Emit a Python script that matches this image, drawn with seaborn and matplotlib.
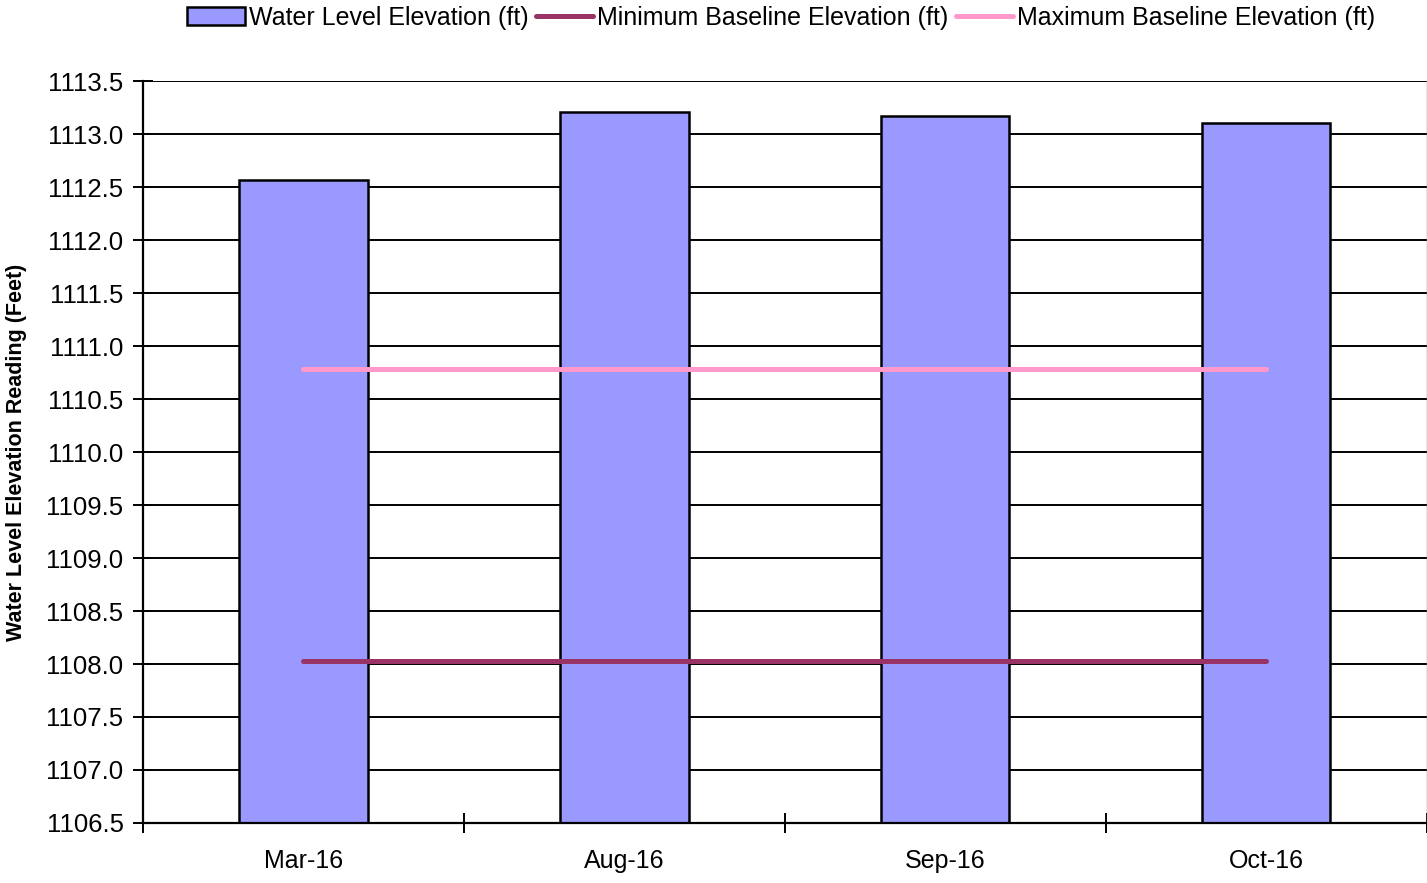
import numpy as np
import pandas as pd
import matplotlib
matplotlib.use("Agg")
import matplotlib.pyplot as plt
import seaborn as sns

# values
months = ['Mar-16', 'Aug-16', 'Sep-16', 'Oct-16']
water_level = [1112.57, 1113.21, 1113.17, 1113.11]
min_baseline = [1108.03, 1108.03, 1108.03, 1108.03]
max_baseline = [1110.78, 1110.78, 1110.78, 1110.78]
y_ticks = np.arange(1106.5, 1113.51, 0.5)

df = pd.DataFrame({'month': months, 'water': water_level,
                   'pos': np.arange(len(months)),
                   'min_base': min_baseline, 'max_base': max_baseline})

sns.set_theme(style="white")
plt.rcParams['font.family'] = ['Liberation Sans', 'DejaVu Sans']
plt.rcParams['text.color'] = 'black'
plt.rcParams['xtick.color'] = 'black'
plt.rcParams['ytick.color'] = 'black'
plt.rcParams['axes.labelcolor'] = 'black'

fig = plt.figure(figsize=(14.27, 8.83), dpi=100)
ax = fig.add_axes([0.1002, 0.068, 0.8995, 0.840])

# horizontal gridlines in black, behind the bars
for y in y_ticks[1:]:
    ax.axhline(y, color='black', linewidth=1.4, zorder=0)

sns.barplot(data=df, x='month', y='water', ax=ax, color='#9999FF',
            saturation=1, width=0.4, edgecolor='black', linewidth=1.8,
            label='Water Level Elevation (ft)', zorder=2)
sns.lineplot(data=df, x='pos', y='min_base', ax=ax, color='#993366',
             linewidth=3.6, label='Minimum Baseline Elevation (ft)', zorder=3)
sns.lineplot(data=df, x='pos', y='max_base', ax=ax, color='#FF99CC',
             linewidth=3.6, label='Maximum Baseline Elevation (ft)', zorder=3)
for ln in ax.lines[-2:]:
    ln.set_solid_capstyle('round')

ax.set_ylim(1106.5, 1113.5)
ax.set_xlim(-0.5, len(months) - 0.5)
ax.set_yticks(y_ticks)
ax.set_yticklabels([f"{v:.1f}" for v in y_ticks], fontsize=18.5)

# ticks at category boundaries, labels at category centres
ax.set_xticks(np.arange(len(months) + 1) - 0.5)
ax.set_xticklabels([])
ax.set_xticks(np.arange(len(months)), minor=True)
ax.set_xticklabels(months, minor=True, fontsize=18)
ax.tick_params(axis='x', which='major', bottom=True, direction='inout',
               length=14, width=1.4, color='black')
ax.tick_params(axis='x', which='minor', bottom=True, length=0, pad=19)
ax.tick_params(axis='y', left=True, direction='inout', length=14,
               width=1.4, color='black', pad=7)

ax.set_xlabel('')
ax.set_ylabel('Water Level Elevation Reading (Feet)', fontsize=15.5,
              fontweight='bold', labelpad=14)

for side in ['left', 'bottom']:
    ax.spines[side].set_color('black')
    ax.spines[side].set_linewidth(1.6)
ax.spines['top'].set_visible(False)
ax.spines['right'].set_color('#888888')
ax.spines['right'].set_linewidth(1.0)

handles, labels = ax.get_legend_handles_labels()
order = [labels.index('Water Level Elevation (ft)'),
         labels.index('Minimum Baseline Elevation (ft)'),
         labels.index('Maximum Baseline Elevation (ft)')]
leg = fig.legend([handles[i] for i in order], [labels[i] for i in order],
                 loc='upper center', bbox_to_anchor=(0.5475, 1.019), ncol=3,
                 frameon=False, fontsize=18, handlelength=2.3,
                 handletextpad=0.15, columnspacing=0.3)
if ax.get_legend():
    ax.get_legend().remove()

fig.savefig('out.png', dpi=100)
